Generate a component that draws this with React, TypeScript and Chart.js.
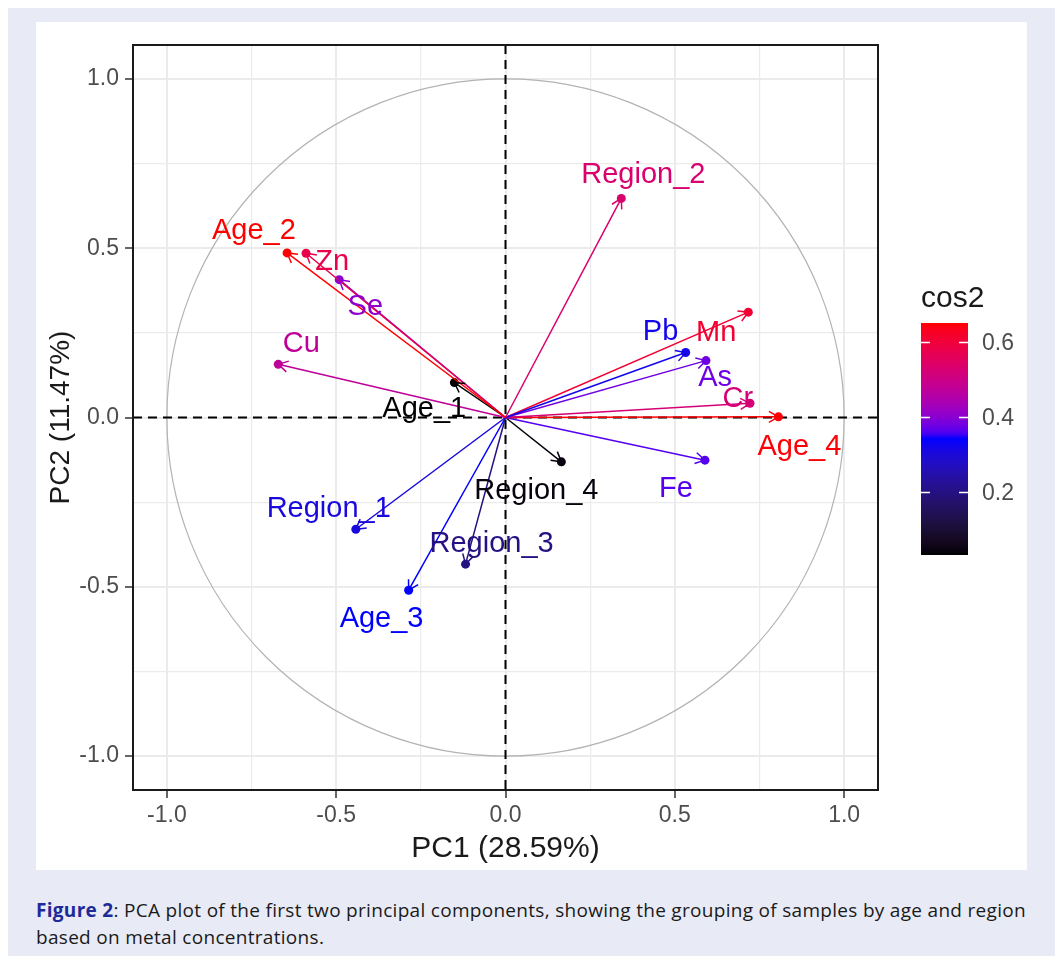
import React, { useEffect, useRef } from "react";
import { Chart, registerables } from "chart.js";

Chart.register(...registerables);

// ---- data ----
const variables = ["Age_2", "Zn", "Se", "Cu", "Age_1", "Region_2", "Pb", "Mn", "As", "Cr", "Age_4", "Fe", "Region_4", "Region_1", "Region_3", "Age_3"];
const pc1 = [-0.645, -0.589, -0.491, -0.671, -0.151, 0.342, 0.532, 0.717, 0.592, 0.722, 0.806, 0.589, 0.165, -0.442, -0.118, -0.286];
const pc2 = [0.486, 0.485, 0.407, 0.157, 0.103, 0.647, 0.192, 0.311, 0.168, 0.042, 0.002, -0.126, -0.131, -0.33, -0.433, -0.51];
// label repel offsets (data units)
const labelDx = [-0.098, 0.077, 0.077, 0.068, -0.089, 0.065, -0.074, -0.095, 0.027, -0.036, 0.062, -0.086, -0.074, -0.08, 0.077, -0.08];
const labelDy = [0.068, -0.024, -0.077, 0.062, -0.074, 0.071, 0.062, -0.059, -0.047, 0.015, -0.086, -0.083, -0.083, 0.062, 0.062, -0.083];

const gridValues = [-1, -0.75, -0.5, -0.25, 0, 0.25, 0.5, 0.75, 1];
const majorTicks = [-1, -0.5, 0, 0.5, 1];
const legendTicks = [0.2, 0.4, 0.6];
const gradientColors = ["#000000", "#0000FF", "#FF0000"];

const xTitle = "PC1 (28.59%)";
const yTitle = "PC2 (11.47%)";
const legendTitle = "cos2";

const FONT = '"Liberation Sans", Arial, Helvetica, sans-serif';

// ---- colour helpers (Lab interpolation like ggplot) ----
function hexToRgb(h: string): number[] {
  const n = parseInt(h.slice(1), 16);
  return [(n >> 16) & 255, (n >> 8) & 255, n & 255];
}
function toLin(c: number) {
  c /= 255;
  return c <= 0.04045 ? c / 12.92 : Math.pow((c + 0.055) / 1.055, 2.4);
}
function fromLin(c: number) {
  const v = c <= 0.0031308 ? 12.92 * c : 1.055 * Math.pow(c, 1 / 2.4) - 0.055;
  return Math.round(Math.max(0, Math.min(1, v)) * 255);
}
function rgbToLab(rgb: number[]) {
  const [r, g, b] = rgb.map(toLin);
  const X = (0.4124 * r + 0.3576 * g + 0.1805 * b) / 0.95047;
  const Y = 0.2126 * r + 0.7152 * g + 0.0722 * b;
  const Z = (0.0193 * r + 0.1192 * g + 0.9505 * b) / 1.08883;
  const f = (t: number) => (t > 0.008856 ? Math.cbrt(t) : 7.787 * t + 16 / 116);
  const fx = f(X), fy = f(Y), fz = f(Z);
  return [116 * fy - 16, 500 * (fx - fy), 200 * (fy - fz)];
}
function labToRgb(lab: number[]) {
  const [L, a, b] = lab;
  const fy = (L + 16) / 116;
  const fx = fy + a / 500;
  const fz = fy - b / 200;
  const inv = (f: number) => (f * f * f > 0.008856 ? f * f * f : (f - 16 / 116) / 7.787);
  const X = inv(fx) * 0.95047, Y = inv(fy), Z = inv(fz) * 1.08883;
  const r = 3.2406 * X - 1.5372 * Y - 0.4986 * Z;
  const g = -0.9689 * X + 1.8758 * Y + 0.0415 * Z;
  const bb = 0.0557 * X - 0.204 * Y + 1.057 * Z;
  return `rgb(${fromLin(r)},${fromLin(g)},${fromLin(bb)})`;
}
const labStops = gradientColors.map((c) => rgbToLab(hexToRgb(c)));
function gradColor(t: number) {
  t = Math.max(0, Math.min(1, t));
  const n = labStops.length - 1;
  const seg = Math.min(n - 1, Math.floor(t * n));
  const lt = t * n - seg;
  const a = labStops[seg], b = labStops[seg + 1];
  return labToRgb([0, 1, 2].map((k) => a[k] + (b[k] - a[k]) * lt));
}

const cos2 = pc1.map((x, i) => x * x + pc2[i] * pc2[i]);
const cosMin = Math.min(...cos2);
const cosMax = Math.max(...cos2);
const colors = cos2.map((v) => gradColor((v - cosMin) / (cosMax - cosMin)));

const isMajor = (v: number) => majorTicks.some((m) => Math.abs(m - v) < 1e-9);

export default function App() {
  const ref = useRef<HTMLCanvasElement | null>(null);

  useEffect(() => {
    if (!ref.current) return;
    Chart.defaults.font.family = FONT;

    const decorations = {
      id: "decorations",
      beforeDatasetsDraw(chart: any) {
        const { ctx, chartArea, scales } = chart;
        const xs = scales.x, ys = scales.y;
        const ox = xs.getPixelForValue(0), oy = ys.getPixelForValue(0);
        const r = xs.getPixelForValue(1) - ox;
        ctx.save();
        ctx.beginPath();
        ctx.rect(chartArea.left, chartArea.top, chartArea.right - chartArea.left, chartArea.bottom - chartArea.top);
        ctx.clip();
        // correlation circle
        ctx.strokeStyle = "#b3b3b3";
        ctx.lineWidth = 1.2;
        ctx.beginPath();
        ctx.arc(ox, oy, r, 0, Math.PI * 2);
        ctx.stroke();
        // dashed reference lines
        ctx.strokeStyle = "#000";
        ctx.lineWidth = 2;
        ctx.setLineDash([9, 6]);
        ctx.beginPath();
        ctx.moveTo(chartArea.left, oy);
        ctx.lineTo(chartArea.right, oy);
        ctx.moveTo(ox, chartArea.top);
        ctx.lineTo(ox, chartArea.bottom);
        ctx.stroke();
        ctx.restore();
      },
      afterDatasetsDraw(chart: any) {
        const { ctx, scales } = chart;
        const xs = scales.x, ys = scales.y;
        const ox = xs.getPixelForValue(0), oy = ys.getPixelForValue(0);
        ctx.save();
        // arrow heads
        variables.forEach((_, i) => {
          const px = xs.getPixelForValue(pc1[i]);
          const py = ys.getPixelForValue(pc2[i]);
          const ang = Math.atan2(py - oy, px - ox);
          const L = 11, A = Math.PI / 6;
          ctx.strokeStyle = colors[i];
          ctx.lineWidth = 1.5;
          ctx.beginPath();
          ctx.moveTo(px - L * Math.cos(ang - A), py - L * Math.sin(ang - A));
          ctx.lineTo(px, py);
          ctx.lineTo(px - L * Math.cos(ang + A), py - L * Math.sin(ang + A));
          ctx.stroke();
        });
        // labels
        ctx.font = `29px ${FONT}`;
        ctx.textAlign = "center";
        ctx.textBaseline = "middle";
        variables.forEach((name, i) => {
          const lx = xs.getPixelForValue(pc1[i] + labelDx[i]);
          const ly = ys.getPixelForValue(pc2[i] + labelDy[i]);
          ctx.fillStyle = colors[i];
          ctx.fillText(name, lx, ly + 1);
        });
        ctx.restore();
      },
      afterDraw(chart: any) {
        const { ctx, chartArea } = chart;
        ctx.save();
        // panel border
        ctx.strokeStyle = "#1a1a1a";
        ctx.lineWidth = 2;
        ctx.strokeRect(chartArea.left, chartArea.top, chartArea.right - chartArea.left, chartArea.bottom - chartArea.top);

        // colour bar legend
        const bx = chartArea.right + 43;
        const bw = 47;
        const bTop = chartArea.top + 278;
        const bBot = chartArea.top + 510;
        const grad = ctx.createLinearGradient(0, bBot, 0, bTop);
        for (let k = 0; k <= 40; k++) grad.addColorStop(k / 40, gradColor(k / 40));
        ctx.fillStyle = grad;
        ctx.fillRect(bx, bTop, bw, bBot - bTop);

        ctx.fillStyle = "#1a1a1a";
        ctx.font = `30px ${FONT}`;
        ctx.textAlign = "left";
        ctx.textBaseline = "alphabetic";
        ctx.fillText(legendTitle, bx, bTop - 16);

        ctx.font = `23px ${FONT}`;
        ctx.textBaseline = "middle";
        legendTicks.forEach((v) => {
          const y = bBot - ((v - cosMin) / (cosMax - cosMin)) * (bBot - bTop);
          ctx.strokeStyle = "#fff";
          ctx.lineWidth = 1.5;
          ctx.beginPath();
          ctx.moveTo(bx, y);
          ctx.lineTo(bx + 9, y);
          ctx.moveTo(bx + bw - 9, y);
          ctx.lineTo(bx + bw, y);
          ctx.stroke();
          ctx.fillStyle = "#4d4d4d";
          ctx.fillText(v.toFixed(1), bx + bw + 14, y + 1);
        });
        ctx.restore();
      },
    };

    const datasets = variables.map((name, i) => ({
      label: name,
      data: [
        { x: 0, y: 0 },
        { x: pc1[i], y: pc2[i] },
      ],
      showLine: true,
      borderColor: colors[i],
      backgroundColor: colors[i],
      borderWidth: 1.5,
      pointRadius: [0, 4.5],
      pointBackgroundColor: colors[i],
      pointBorderWidth: 0,
      pointHoverRadius: [0, 4.5],
    }));

    const axisCommon = (title: string, isX: boolean) => ({
      type: "linear" as const,
      min: -1.1,
      max: 1.1,
      afterBuildTicks: (s: any) => {
        s.ticks = gridValues.map((v) => ({ value: v }));
      },
      afterFit: (s: any) => {
        if (isX) s.height = 80;
        else s.width = 97;
      },
      ticks: {
        autoSkip: false,
        maxRotation: 0,
        padding: isX ? 4 : 6,
        color: "#4d4d4d",
        font: { size: 23 },
        callback: (v: any) => (isMajor(Number(v)) ? Number(v).toFixed(1) : ""),
      },
      grid: {
        color: "#ebebeb",
        lineWidth: (c: any) => (c.tick && isMajor(c.tick.value) ? 2 : 1.2),
        tickLength: 8,
        tickColor: (c: any) => (c.tick && isMajor(c.tick.value) ? "#333333" : "rgba(0,0,0,0)"),
        tickWidth: 1.5,
      },
      border: { display: false },
      title: {
        display: true,
        text: title,
        color: "#1a1a1a",
        font: { size: isX ? 30 : 28 },
        padding: isX ? { top: 0, bottom: 3 } : { top: 8, bottom: 0 },
      },
    });

    const chart = new Chart(ref.current, {
      type: "scatter",
      data: { datasets },
      options: {
        responsive: false,
        animation: false,
        devicePixelRatio: 1,
        layout: { padding: { top: 23, right: 149, bottom: 0, left: 0 } },
        plugins: { legend: { display: false }, tooltip: { enabled: false } },
        scales: {
          x: axisCommon(xTitle, true),
          y: axisCommon(yTitle, false),
        },
      } as any,
      plugins: [decorations],
    });
    return () => chart.destroy();
  }, []);

  return (
    <div
      style={{
        position: "fixed",
        left: 8,
        top: 8,
        right: 0,
        bottom: 2,
        background: "#e8ebf6",
      }}
    >
      <div style={{ position: "absolute", left: 28, top: 14, width: 991, height: 848, background: "#fff" }}>
        <canvas ref={ref} width={991} height={848} style={{ width: 991, height: 848, display: "block" }} />
      </div>
      <div
        style={{
          position: "absolute",
          left: 28,
          top: 889,
          fontFamily: '"Open Sans", "Noto Sans", sans-serif',
          fontSize: 19,
          letterSpacing: "0.3px",
          lineHeight: "27px",
          color: "#1a1a1a",
          whiteSpace: "nowrap",
        }}
      >
        <span style={{ color: "#1f2a99", fontWeight: 700 }}>Figure 2</span>: PCA plot of the first two principal components, showing the grouping of samples by age and region
        <br />
        based on metal concentrations.
      </div>
    </div>
  );
}
